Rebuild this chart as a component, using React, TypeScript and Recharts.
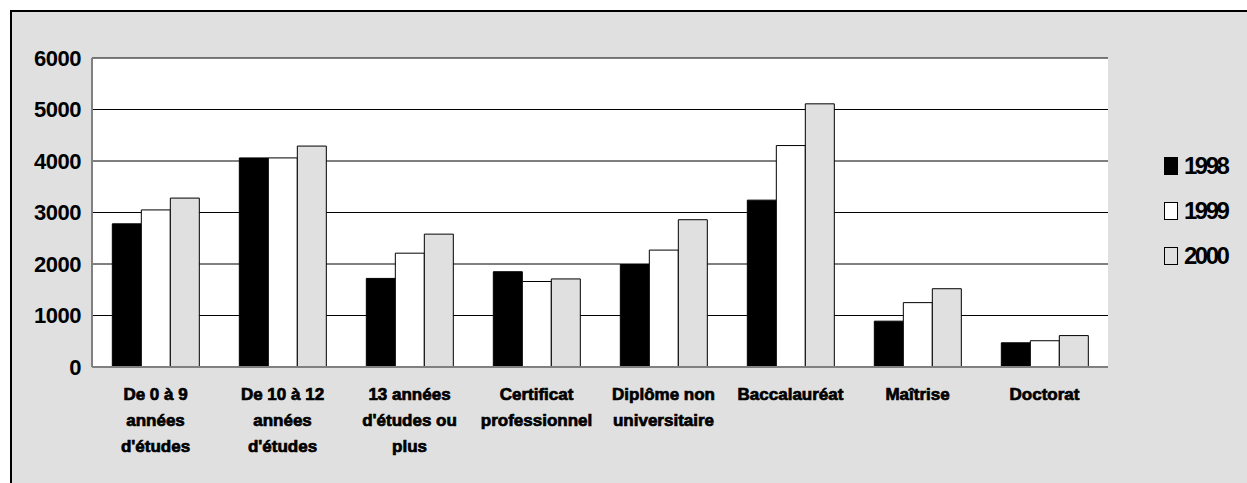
import { BarChart, Bar, XAxis, YAxis, CartesianGrid } from "recharts";

const categoryLines = [
  ["De 0 à 9", "années", "d'études"],
  ["De 10 à 12", "années", "d'études"],
  ["13 années", "d'études ou", "plus"],
  ["Certificat", "professionnel"],
  ["Diplôme non", "universitaire"],
  ["Baccalauréat"],
  ["Maîtrise"],
  ["Doctorat"],
];

const values1998 = [2780, 4060, 1720, 1850, 1990, 3240, 890, 470];
const values1999 = [3050, 4060, 2210, 1660, 2270, 4300, 1250, 510];
const values2000 = [3280, 4290, 2580, 1710, 2860, 5110, 1520, 610];

const yTicks = [0, 1000, 2000, 3000, 4000, 5000, 6000];

const seriesNames = ["1998", "1999", "2000"];
const seriesFills = ["#000000", "#ffffff", "#e0e0e0"];

const data = categoryLines.map((lines, i) => ({
  name: lines.join(" "),
  y1998: values1998[i],
  y1999: values1999[i],
  y2000: values2000[i],
}));

const FONT = "'Liberation Sans', Arial, sans-serif";

function CategoryTick({ x, y, payload }: any) {
  const lines = categoryLines[payload.index] ?? [];
  return (
    <g transform={`translate(${x},${y})`}>
      {lines.map((line, i) => (
        <text
          key={i}
          x={0}
          y={33 + i * 26}
          textAnchor="middle"
          fontSize={17}
          fontWeight={700}
          fill="#000"
          stroke="#000"
          strokeWidth={0.7}
          fontFamily={FONT}
        >
          {line}
        </text>
      ))}
    </g>
  );
}

export default function App() {
  return (
    <div style={{ position: "relative", width: 1247, height: 483, background: "#fff", overflow: "hidden" }}>
      <style>{`body{margin:0;overflow:hidden}`}</style>
      <div
        style={{
          position: "absolute",
          left: 10,
          top: 10,
          width: 1250,
          height: 480,
          background: "#e0e0e0",
          borderTop: "2px solid #000",
          borderLeft: "2px solid #000",
          fontFamily: FONT,
        }}
      >
        <BarChart
          width={1235}
          height={471}
          data={data}
          margin={{ top: 46, right: 139, bottom: 0, left: 0 }}
          barCategoryGap="16%"
          barGap={0}
          style={{ fontFamily: FONT }}
        >
          <CartesianGrid vertical={false} stroke="#000" fill="#ffffff" />
          <XAxis
            dataKey="name"
            interval={0}
            tickLine={false}
            tickSize={0}
            tickMargin={0}
            axisLine={{ stroke: "#808080", strokeWidth: 2 }}
            tick={<CategoryTick />}
            height={116}
          />
          <XAxis
            xAxisId="top"
            dataKey="name"
            orientation="top"
            height={0}
            tick={false}
            tickLine={false}
            axisLine={{ stroke: "#808080", strokeWidth: 2 }}
          />
          <YAxis
            domain={[0, 6000]}
            ticks={yTicks}
            width={80}
            tickLine={false}
            tickSize={0}
            tickMargin={11}
            axisLine={{ stroke: "#808080", strokeWidth: 2 }}
            tick={{ fontSize: 22, fontWeight: 700, fill: "#000", fontFamily: FONT, letterSpacing: -0.5 }}
          />
          <YAxis
            yAxisId="right"
            orientation="right"
            domain={[0, 6000]}
            width={0}
            tick={false}
            tickLine={false}
            axisLine={{ stroke: "#808080", strokeWidth: 2 }}
          />
          <Bar dataKey="y1998" name="1998" fill={seriesFills[0]} stroke="#000" strokeWidth={1} isAnimationActive={false} />
          <Bar dataKey="y1999" name="1999" fill={seriesFills[1]} stroke="#000" strokeWidth={1} isAnimationActive={false} />
          <Bar dataKey="y2000" name="2000" fill={seriesFills[2]} stroke="#000" strokeWidth={1} isAnimationActive={false} />
        </BarChart>
        {seriesNames.map((name, i) => (
          <div
            key={name}
            style={{ position: "absolute", left: 1152, top: 143 + i * 45, display: "flex", alignItems: "center" }}
          >
            <div
              style={{
                width: i === 0 ? 14 : 12,
                height: i === 0 ? 18 : 16,
                background: seriesFills[i],
                border: i === 0 ? "none" : "1.5px solid #000",
              }}
            />
            <span
              style={{
                marginLeft: 6,
                fontSize: 24,
                fontWeight: 700,
                letterSpacing: -2.5,
                lineHeight: "22px",
                color: "#000",
              }}
            >
              {name}
            </span>
          </div>
        ))}
      </div>
    </div>
  );
}
